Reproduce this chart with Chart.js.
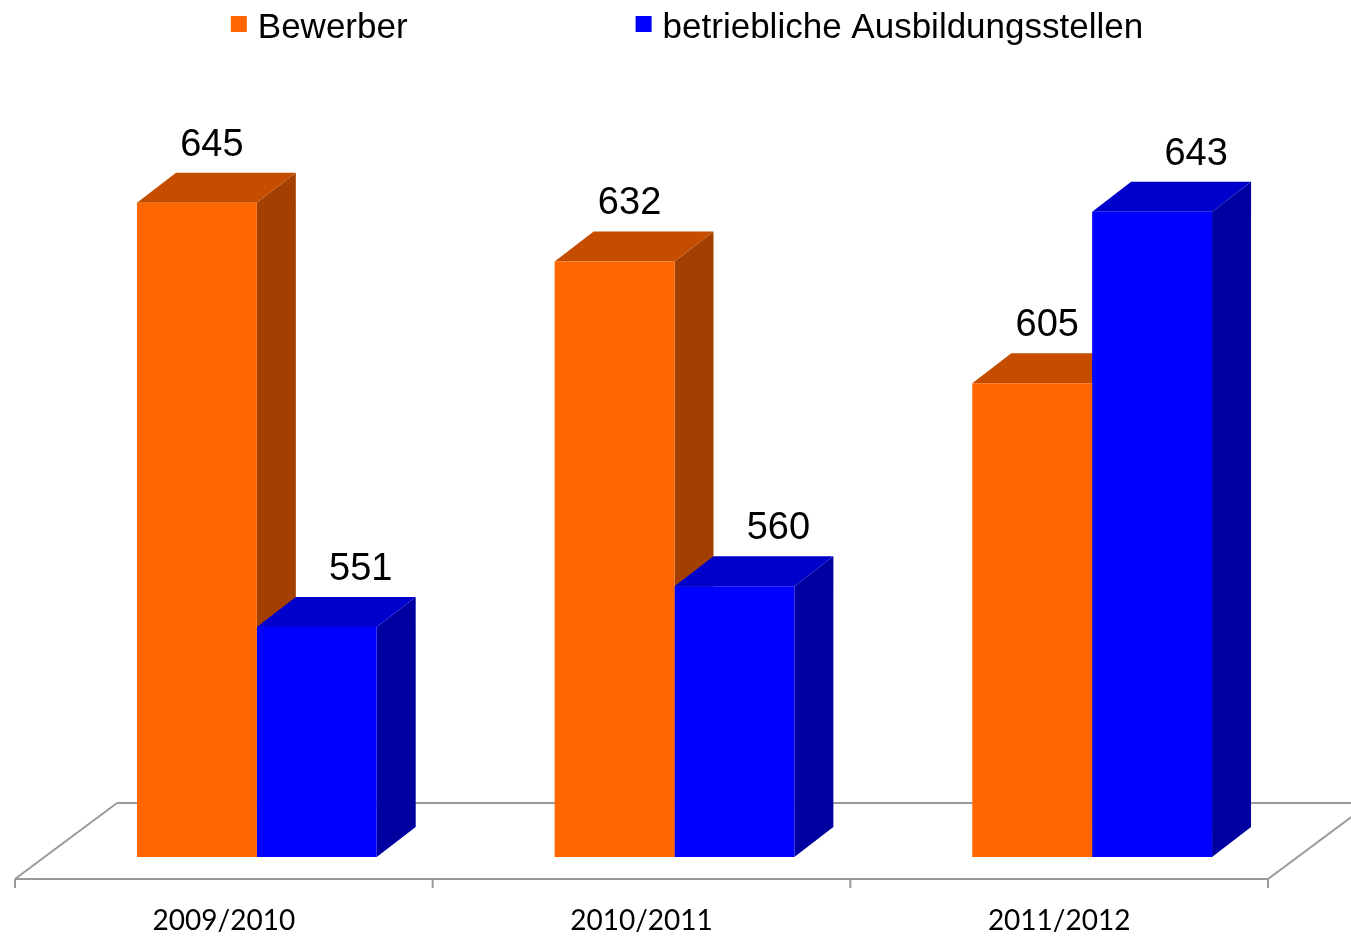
<!DOCTYPE html>
<html>
<head>
<meta charset="utf-8">
<script src="https://cdn.jsdelivr.net/npm/chart.js@4.4.1/dist/chart.umd.min.js"></script>
<style>
    html, body { margin: 0; padding: 0; background: #ffffff; }
    #wrap { width: 1351px; height: 937px; }
</style>
</head>
<body>
<div id="wrap"><canvas id="chart"></canvas></div>
<script>
const categories = ['2009/2010', '2010/2011', '2011/2012'];
const bewerber = [645, 632, 605];
const ausbildungsstellen = [551, 560, 643];
const seriesNames = ['Bewerber', 'betriebliche Ausbildungsstellen'];

// front / top / side shades for the fake 3D look
const SHADES = [
    { front: '#ff6600', top: '#c44d00', side: '#a33f00' },
    { front: '#0000ff', top: '#0000cc', side: '#0000a0' }
];
const DEPTH_X = 39;
const DEPTH_Y = 30;
const LABEL_SHIFT = [15, 44];

function poly(ctx, pts, color) {
    ctx.beginPath();
    ctx.moveTo(pts[0][0], pts[0][1]);
    for (let i = 1; i < pts.length; i++) ctx.lineTo(pts[i][0], pts[i][1]);
    ctx.closePath();
    ctx.fillStyle = color;
    ctx.fill();
}

const fake3d = {
    id: 'fake3d',
    beforeDatasetsDraw(chart) {
        const ctx = chart.ctx;
        const area = chart.chartArea;
        const xs = chart.scales.x;

        // floor
        const fl = area.left - 33, fr = area.right - 33, fy = area.bottom + 22;
        const bx = 102, by = 76;
        ctx.save();
        ctx.strokeStyle = '#9a9a9a';
        ctx.lineWidth = 2;
        ctx.beginPath();
        ctx.moveTo(fl, fy); ctx.lineTo(fr, fy);
        ctx.moveTo(fl + bx, fy - by); ctx.lineTo(fr + bx, fy - by);
        ctx.moveTo(fl, fy); ctx.lineTo(fl + bx, fy - by);
        ctx.moveTo(fr, fy); ctx.lineTo(fr + bx, fy - by);
        ctx.stroke();

        // ticks
        const step = (fr - fl) / categories.length;
        ctx.beginPath();
        for (let i = 0; i <= categories.length; i++) {
            const tx = fl + step * i;
            ctx.moveTo(tx, fy); ctx.lineTo(tx, fy + 9);
        }
        ctx.stroke();

        // category labels
        ctx.fillStyle = '#000';
        ctx.font = '28px Lato, "Open Sans", sans-serif';
        ctx.textAlign = 'center';
        ctx.textBaseline = 'middle';
        categories.forEach((c, i) => {
            ctx.fillText(c, xs.getPixelForValue(i) - 33, 921);
        });

        // depth faces (side + top), fronts are the normal bars
        chart.data.datasets.forEach((ds, di) => {
            const meta = chart.getDatasetMeta(di);
            meta.data.forEach(el => {
                const l = el.x - el.width / 2, r = el.x + el.width / 2;
                const t = el.y, b = Math.min(el.base, area.bottom);
                poly(ctx, [[r, t], [r + DEPTH_X, t - DEPTH_Y], [r + DEPTH_X, b - DEPTH_Y], [r, b]], SHADES[di].side);
                poly(ctx, [[l, t], [r, t], [r + DEPTH_X, t - DEPTH_Y], [l + DEPTH_X, t - DEPTH_Y]], SHADES[di].top);
            });
        });
        ctx.restore();
    },
    afterDatasetsDraw(chart) {
        const ctx = chart.ctx;
        ctx.save();
        ctx.fillStyle = '#000';
        ctx.font = '38px "Liberation Sans", Arial, sans-serif';
        ctx.textAlign = 'center';
        ctx.textBaseline = 'alphabetic';
        chart.data.datasets.forEach((ds, di) => {
            const meta = chart.getDatasetMeta(di);
            meta.data.forEach((el, i) => {
                ctx.fillText(String(ds.data[i]), el.x + LABEL_SHIFT[di], el.y - DEPTH_Y - 17);
            });
        });

        // legend
        ctx.font = '35px "Liberation Sans", Arial, sans-serif';
        ctx.textAlign = 'left';
        const box = 16, gapText = 11, gapItems = 228;
        const widths = seriesNames.map(n => box + gapText + ctx.measureText(n).width);
        const total = widths[0] + widths[1] + gapItems;
        let x = 687 - total / 2;
        seriesNames.forEach((n, i) => {
            ctx.fillStyle = SHADES[i].front;
            ctx.fillRect(x, 16, box, box);
            ctx.fillStyle = '#000';
            ctx.fillText(n, x + box + gapText, 38);
            x += widths[i] + gapItems;
        });
        ctx.restore();
    }
};

new Chart(document.getElementById('chart'), {
    type: 'bar',
    data: {
        labels: categories,
        datasets: [
            { label: seriesNames[0], data: bewerber, backgroundColor: SHADES[0].front },
            { label: seriesNames[1], data: ausbildungsstellen, backgroundColor: SHADES[1].front }
        ]
    },
    options: {
        responsive: true,
        maintainAspectRatio: false,
        animation: false,
        layout: { padding: { left: 48, right: 50, top: 90, bottom: 80 } },
        datasets: {
            bar: { categoryPercentage: 0.574, barPercentage: 1.0, borderWidth: 0 }
        },
        scales: {
            x: { display: false },
            y: { display: false, min: 500, max: 670 }
        },
        plugins: {
            legend: { display: false },
            tooltip: { enabled: false }
        }
    },
    plugins: [fake3d]
});
</script>
</body>
</html>
